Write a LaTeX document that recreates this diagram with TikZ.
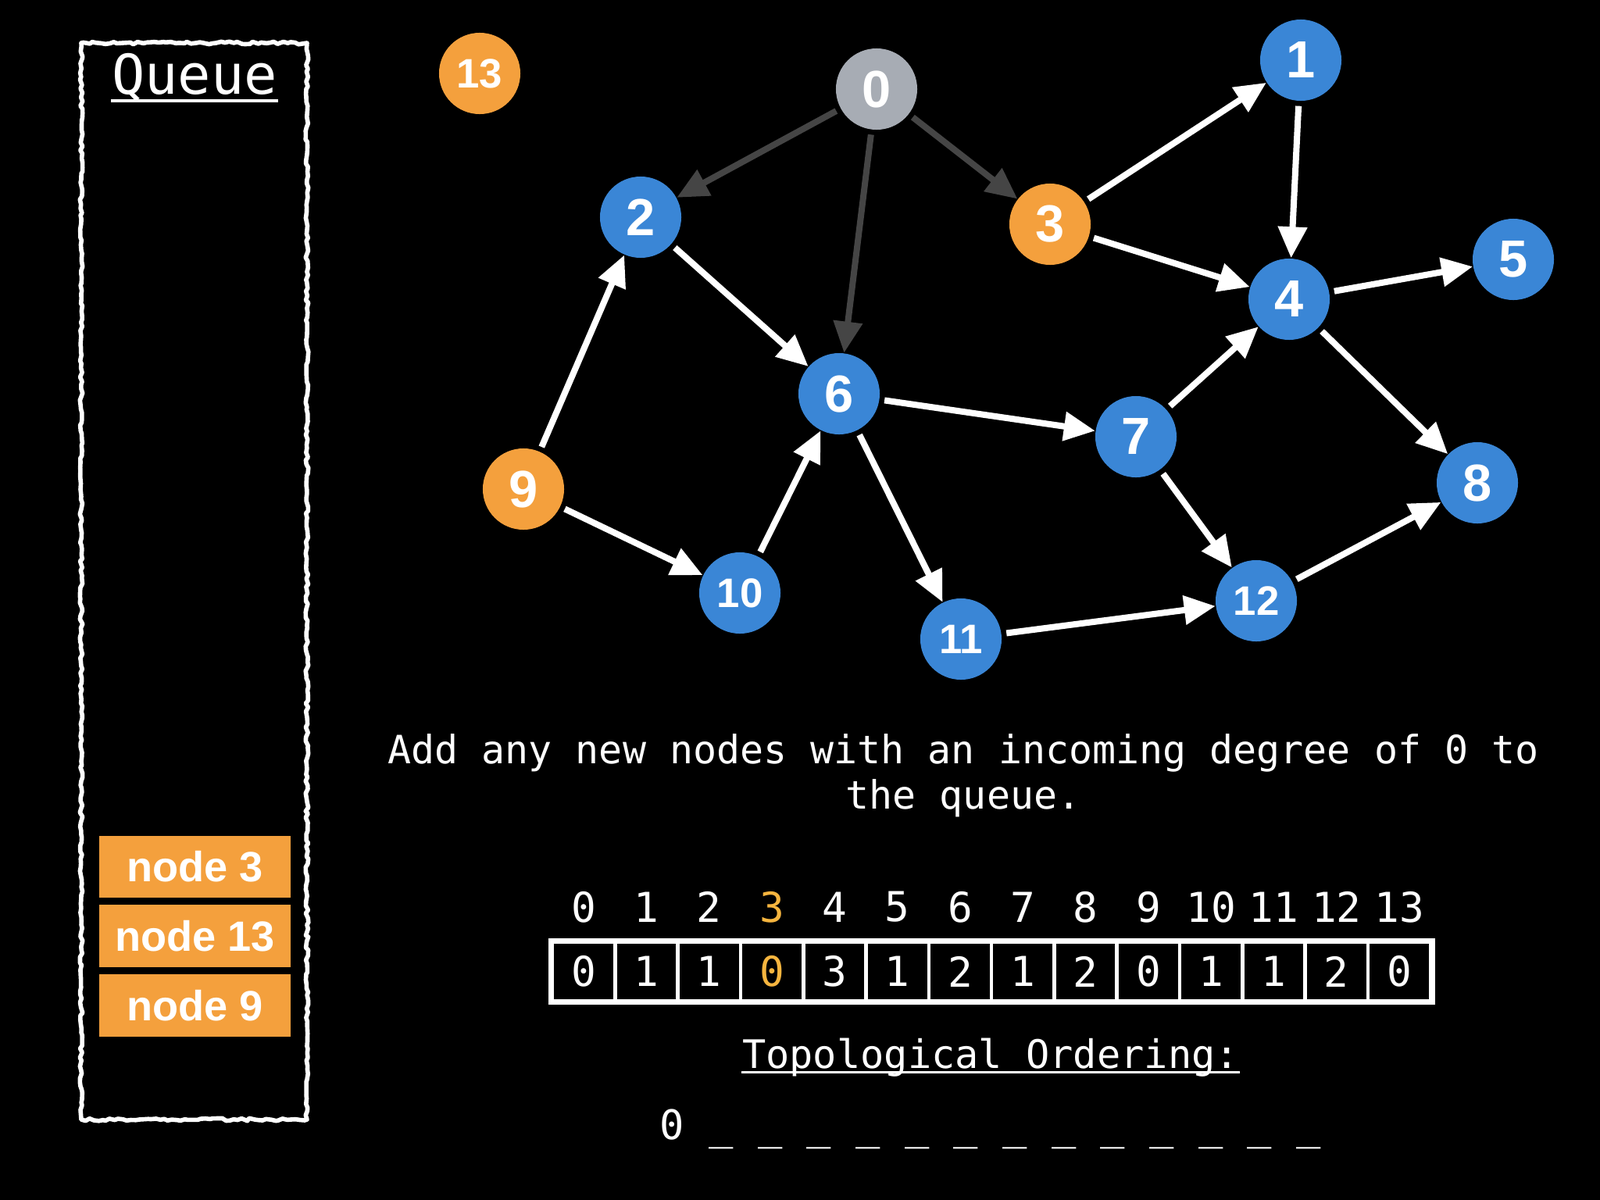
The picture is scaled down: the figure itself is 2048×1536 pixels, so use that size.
\documentclass[tikz,border=0pt]{standalone}
\usepackage{fontspec}
\setmainfont{Liberation Sans}
\newfontfamily\monofont{DejaVu Sans Mono}
\usetikzlibrary{arrows.meta,decorations.pathmorphing}

\definecolor{nodeblue}{HTML}{3A86D6}
\definecolor{nodeorange}{HTML}{F4A03D}
\definecolor{nodegray}{HTML}{A7ACB4}
\definecolor{edgegray}{HTML}{454545}
\definecolor{hilite}{HTML}{F6B53F}

\tikzset{
  vert/.style={circle, minimum size=1.04cm, inner sep=0pt, text=white,
    font=\fontsize{19}{19}\selectfont\bfseries},
  vertsmall/.style={vert, font=\fontsize{15}{15}\selectfont\bfseries},
  edge/.style={-{Triangle[length=0.40cm,width=0.36cm]}, line width=0.08cm,
    white, shorten <=0.06cm},
  doneedge/.style={edge, edgegray},
  qitem/.style={fill=nodeorange, minimum width=2.45cm, minimum height=0.79cm,
    inner sep=0pt, text=white, font=\fontsize{15.4}{15.4}\selectfont\bfseries},
  cell/.style={draw=white, line width=1.3pt, minimum width=0.803cm,
    minimum height=0.75cm, inner sep=0pt},
  mono/.style={text=white, font=\monofont\fontsize{15}{15}\selectfont},
}

\begin{document}
\begin{tikzpicture}[x=0.01cm, y=-0.01cm]
  \fill[black] (0,0) rectangle (2048,1536);
  \useasboundingbox (0,0) rectangle (2048,1536);

  % --- queue ---
  \draw[white, line width=1.6pt, line join=round, decorate,
    decoration={random steps, segment length=1.5pt, amplitude=0.5pt}]
    (104,55) rectangle (393,1433);
  \node[mono, font=\monofont\fontsize{20}{20}\selectfont, anchor=base, inner sep=0pt]
    (qtitle) at (249,120) {Queue};
  \draw[white, line width=1.2pt] ([yshift=-2.5pt]qtitle.base west) -- ([yshift=-2.5pt]qtitle.base east);
  \node[qitem] (q3)  at (249.5,1109.5) {node 3};
  \node[qitem] (q13) at (249.5,1198)   {node 13};
  \node[qitem] (q9)  at (249.5,1287)   {node 9};

  % --- graph ---
  \node[vert, fill=nodegray]        (n0)  at (1122,114) {0};
  \node[vert, fill=nodeblue]        (n1)  at (1665,77)  {1};
  \node[vert, fill=nodeblue]        (n2)  at (820,278)  {2};
  \node[vert, fill=nodeorange]      (n3)  at (1344,287) {3};
  \node[vert, fill=nodeblue]        (n4)  at (1650,383) {4};
  \node[vert, fill=nodeblue]        (n5)  at (1937,332) {5};
  \node[vert, fill=nodeblue]        (n6)  at (1074,504) {6};
  \node[vert, fill=nodeblue]        (n7)  at (1454,559) {7};
  \node[vert, fill=nodeblue]        (n8)  at (1891,618) {8};
  \node[vert, fill=nodeorange]      (n9)  at (670,626)  {9};
  \node[vertsmall, fill=nodeblue]   (n10) at (947,759)  {10};
  \node[vertsmall, fill=nodeblue]   (n11) at (1230,818) {11};
  \node[vertsmall, fill=nodeblue]   (n12) at (1608,769) {12};
  \node[vertsmall, fill=nodeorange] (n13) at (614,94)   {13};

  \foreach \b in {2,6,3}
    \draw[doneedge] (n0) -- (n\b);
  \foreach \a/\b in {3/1,3/4,1/4,4/5,4/8,2/6,9/2,9/10,10/6,6/7,6/11,7/4,7/12,11/12,12/8}
    \draw[edge] (n\a) -- (n\b);

  % --- message ---
  \node[mono, font=\monofont\fontsize{14.2}{16.4}\selectfont, align=center] (msg) at (1233,993)
    {Add any new nodes with an incoming degree of 0 to\\the queue.};

  % --- in-degree table ---
  \foreach \v [count=\i from 0] in {0,1,1,0,3,1,2,1,2,0,1,1,2,0} {
    \ifnum\i=3 \def\tc{hilite}\else\def\tc{white}\fi
    \node[cell, mono, text=\tc] (c\i) at ({747.2+80.3*\i},1243.5) {\v};
    \node[mono, text=\tc]       (i\i) at ({747.2+80.3*\i},1161)   {\i};
  }
  \draw[white, line width=1.8pt] (c0.north west) rectangle (c13.south east);

  % --- ordering ---
  \node[mono, font=\monofont\fontsize{14.3}{14.3}\selectfont, anchor=base, inner sep=0pt]
    (topo) at (1268,1367) {Topological Ordering:};
  \draw[white, line width=1pt] ([yshift=-1.5pt]topo.base west) -- ([yshift=-1.5pt]topo.base east);
  \node[mono, font=\monofont\fontsize{14.8}{14.8}\selectfont, anchor=base, inner sep=0pt]
    (order) at (1268,1458) {0 \_ \_ \_ \_ \_ \_ \_ \_ \_ \_ \_ \_ \_};
\end{tikzpicture}
\end{document}
